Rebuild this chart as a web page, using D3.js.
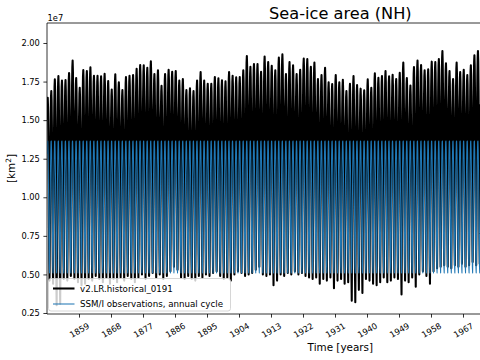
<!DOCTYPE html>
<html><head><meta charset="utf-8">
<script src="https://cdn.jsdelivr.net/npm/d3@7"></script>
<style>
body{margin:0;background:#fff}
svg{display:block;font-family:"DejaVu Sans",sans-serif}
</style>
</head><body>
<svg id="c" width="480" height="360"></svg>
<script>
// ---- data (sea-ice area, units of 1e7 km^2) ----
const firstYear = 1850;
// annual maxima (March) of the model run, 1850-1971
const modelMax = [
1.645,1.689,1.764,1.786,1.756,1.760,1.805,1.887,1.773,1.710,
1.825,1.818,1.842,1.788,1.788,1.784,1.801,1.753,1.699,1.797,
1.745,1.695,1.779,1.788,1.792,1.833,1.857,1.855,1.840,1.881,
1.799,1.823,1.723,1.799,1.827,1.814,1.818,1.756,1.766,1.695,
1.706,1.689,1.756,1.812,1.756,1.736,1.736,1.779,1.771,1.758,
1.751,1.812,1.788,1.777,1.779,1.823,1.915,1.846,1.864,1.864,
1.814,
1.913,1.876,1.853,1.823,1.905,1.926,1.799,1.876,1.855,1.799,
1.827,1.900,1.896,1.846,1.874,1.766,1.792,1.840,1.745,1.734,
1.792,1.745,1.762,1.689,1.736,1.786,1.728,1.704,1.693,1.764,
1.710,1.803,1.775,1.786,1.818,1.784,1.794,1.766,1.807,1.874,
1.773,1.725,1.844,1.887,1.857,1.823,1.829,1.879,1.876,1.896,
1.948,1.868,1.818,1.766,1.874,1.812,1.827,1.792,1.855,1.920,1.948
];
// annual minima (September) of the model run, 1850-1971
const modelMin = [
0.46,0.44,0.30,0.31,0.47,0.46,0.49,0.47,0.45,0.43,
0.44,0.47,0.46,0.49,0.47,0.45,0.48,0.44,0.47,0.45,
0.48,0.46,0.49,0.47,0.45,0.48,0.50,0.47,0.49,0.51,
0.48,0.50,0.47,0.49,0.52,0.55,0.53,0.48,0.47,0.49,
0.47,0.46,0.49,0.48,0.50,0.49,0.51,0.52,0.49,0.47,
0.48,0.46,0.50,0.52,0.51,0.49,0.50,0.51,0.53,0.55,
0.50,0.49,0.50,0.43,0.46,0.50,0.49,0.51,0.50,0.52,
0.50,0.51,0.49,0.48,0.47,0.48,0.44,0.47,0.46,0.48,
0.41,0.46,0.47,0.44,0.45,0.33,0.32,0.40,0.38,0.47,
0.46,0.44,0.43,0.45,0.48,0.45,0.46,0.48,0.47,0.37,
0.46,0.45,0.48,0.42,0.50,0.52,0.49,0.44,0.52,0.54,
0.55,0.56,0.55,0.54,0.56,0.55,0.57,0.55,0.56,0.58,
0.56,0.57
];
// monthly position within each year's min..max range (Jan..Dec)
const modelCycleShape = [0.88,0.97,1.00,0.95,0.82,0.62,0.35,0.12,0.00,0.20,0.48,0.75];
// SSM/I observed annual cycle (Jan..Dec)
const obsCycle = [1.28,1.36,1.365,1.30,1.16,0.98,0.72,0.55,0.51,0.68,0.93,1.14];
const xTicks = [1859,1868,1877,1886,1895,1904,1913,1922,1931,1940,1949,1958,1967];
const yTicks = [0.25,0.50,0.75,1.00,1.25,1.50,1.75,2.00];
const seriesNames = ["v2.LR.historical_0191","SSM/I observations, annual cycle"];

// ---- layout ----
const L = 47, T = 23, B = 314, R = 47 + 165*3.5556;
const x = d3.scaleLinear().domain([1850, 2015]).range([L, R]);
const y = d3.scaleLinear().domain([0.2435, 2.1296]).range([B, T]);
const svg = d3.select("#c");

svg.append("defs").append("clipPath").attr("id","clip")
  .append("rect").attr("x",L).attr("y",T).attr("width",R-L).attr("height",B-T);

const model = [];
modelMax.forEach((mx,i)=>{
  const mn = modelMin[i];
  modelCycleShape.forEach((f,m)=>model.push([firstYear+i+(m+0.5)/12, mn+f*(mx-mn)]));
});
const obs = [];
modelMax.forEach((_,i)=>obsCycle.forEach((v,m)=>obs.push([firstYear+i+(m+0.5)/12, v])));

const line = d3.line().x(d=>x(d[0])).y(d=>y(d[1]));
const g = svg.append("g").attr("clip-path","url(#clip)");
g.append("path").datum(model).attr("d",line).attr("fill","none")
  .attr("stroke","#000").attr("stroke-width",2.08).attr("stroke-linejoin","round");
g.append("path").datum(obs).attr("d",line).attr("fill","none")
  .attr("stroke","#1f77b4").attr("stroke-width",1.04).attr("stroke-linejoin","round");

// axes
const ya = svg.append("g").attr("transform",`translate(${L},0)`)
  .call(d3.axisLeft(y).tickValues(yTicks).tickSize(3.6).tickSizeOuter(0).tickPadding(3.5).tickFormat(d3.format(".2f")));
ya.select(".domain").remove();
ya.selectAll("text").attr("font-size",8.3).attr("font-family","DejaVu Sans").attr("fill","#000");
ya.selectAll("line").attr("stroke-width",0.8);

const xa = svg.append("g").attr("transform",`translate(0,${B})`)
  .call(d3.axisBottom(x).tickValues(xTicks).tickSize(3.6).tickSizeOuter(0).tickFormat(d3.format("d")));
xa.select(".domain").remove();
xa.selectAll("line").attr("stroke-width",0.8);
xa.selectAll("text").attr("font-size",8.3).attr("font-family","DejaVu Sans").attr("fill","#000")
  .attr("y",0).attr("dy",null).attr("dominant-baseline","central")
  .attr("transform","translate(0,16.2) rotate(-30)");

// spines
const sp = svg.append("g").attr("stroke","#000").attr("stroke-width",0.8).attr("fill","none");
sp.append("line").attr("x1",L).attr("x2",L).attr("y1",T).attr("y2",B);
sp.append("line").attr("x1",L).attr("x2",R).attr("y1",B).attr("y2",B);
sp.append("line").attr("x1",L).attr("x2",R).attr("y1",T).attr("y2",T);

// offset text
svg.append("text").attr("x",47.5).attr("y",20.5).attr("font-size",8.3).text("1e7");

// title & labels
const cx = (L+R)/2;
svg.append("text").attr("x",cx).attr("y",19).attr("text-anchor","middle")
  .attr("font-size",16.2).text("Sea-ice area (NH)");
svg.append("text").attr("x",cx).attr("y",351).attr("text-anchor","middle")
  .attr("font-size",10.4).text("Time [years]");
const yl = svg.append("text").attr("transform",`translate(14.5,${(T+B)/2}) rotate(-90)`)
  .attr("text-anchor","middle").attr("font-size",10.4);
yl.append("tspan").text("[km");
yl.append("tspan").attr("font-size",7.3).attr("dy",-4).text("2");
yl.append("tspan").attr("dy",4).text("]");

// legend
const lg = svg.append("g");
lg.append("rect").attr("x",48.5).attr("y",278.5).attr("width",182).attr("height",32.5)
  .attr("rx",2.5).attr("fill","#fff").attr("fill-opacity",0.8).attr("stroke","#cccccc").attr("stroke-width",0.8);
const rows = [{c:"#000",w:2.08,y:288.5},{c:"#1f77b4",w:1.04,y:304}];
rows.forEach((r,i)=>{
  lg.append("line").attr("x1",53).attr("x2",74.5).attr("y1",r.y).attr("y2",r.y)
    .attr("stroke",r.c).attr("stroke-width",r.w);
  lg.append("text").attr("x",80).attr("y",r.y).attr("dominant-baseline","central")
    .attr("font-size",8.7).text(seriesNames[i]);
});
</script>
</body></html>
